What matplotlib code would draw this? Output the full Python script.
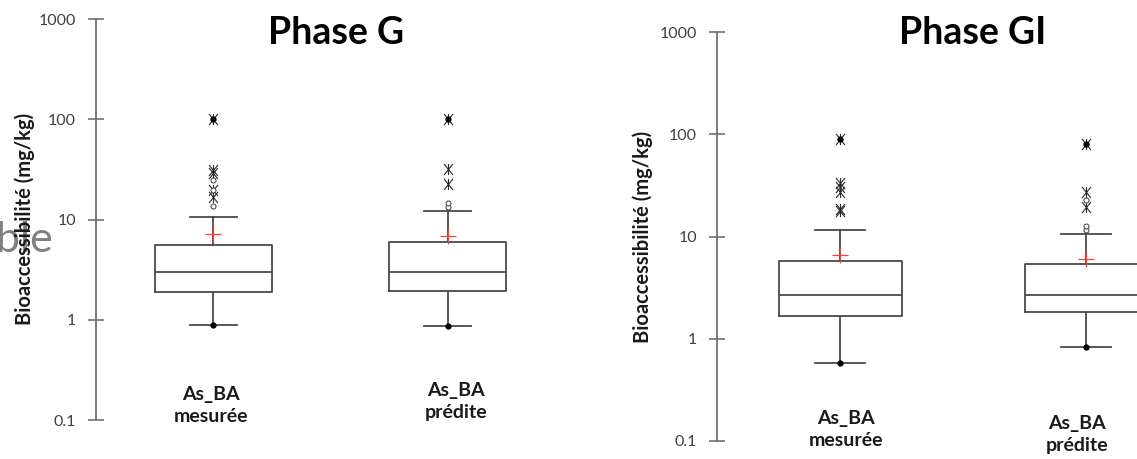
import numpy as np
import matplotlib
matplotlib.use("Agg")
import matplotlib.pyplot as plt
from matplotlib.path import Path

plt.rcParams['font.family'] = ['Lato', 'DejaVu Sans']

# ---- data ----
categories = ["As_BA\nmesurée", "As_BA\nprédite"]
titles = ["Phase G", "Phase GI"]
ylabel = "Bioaccessibilité (mg/kg)"
yticks = [0.1, 1, 10, 100, 1000]
ytick_labels = ["0.1", "1", "10", "100", "1000"]

# Phase G
g_q1 = [1.89, 1.95]
g_med = [2.99, 2.99]
g_q3 = [5.6, 6.04]
g_lo = [0.89, 0.858]
g_hi = [10.6, 12.2]
g_mean = [7.2, 6.92]
g_min = [0.89, 0.858]
g_max = [101, 101]
g_stars = [[16.9, 19.8, 29.0, 31.3, 101], [22.7, 32.0, 101]]
g_circles = [[13.7, 19.8, 24.9], [13.3, 14.7]]

# Phase GI
gi_q1 = [1.69, 1.84]
gi_med = [2.71, 2.71]
gi_q3 = [5.76, 5.42]
gi_lo = [0.578, 0.83]
gi_hi = [11.7, 10.6]
gi_mean = [6.68, 6.03]
gi_min = [0.578, 0.83]
gi_max = [90.6, 80.4]
gi_stars = [[17.8, 18.8, 27.6, 30.5, 33.8, 90.6], [19.4, 27.6, 80.4]]
gi_circles = [[], [11.7, 12.6, 22.9]]

W, H = 1137, 459
fig = plt.figure(figsize=(W / 100, H / 100), dpi=100)

box_col = '#4a4a4a'
axis_col = '#707070'

# asterisk like XLSTAT: an X with a vertical bar
star = Path([(-0.8, -1), (0.8, 1), (-0.8, 1), (0.8, -1), (0, -1), (0, 1)],
            [Path.MOVETO, Path.LINETO, Path.MOVETO, Path.LINETO, Path.MOVETO, Path.LINETO])


def px_axes(x0, y_top, y_bot, width):
    # axes placed from pixel coordinates of the reference
    return fig.add_axes([x0 / W, (H - y_bot) / H, width / W, (y_bot - y_top) / H])


def draw_panel(ax, q1, med, q3, lo, hi, mean, mn, mx, stars, circles):
    stats = []
    for i in range(len(q1)):
        stats.append(dict(q1=q1[i], med=med[i], q3=q3[i], whislo=lo[i],
                          whishi=hi[i], mean=mean[i], fliers=[]))
    pos = [1, 2]
    ax.bxp(stats, positions=pos, widths=0.5, showmeans=True, showfliers=False,
           boxprops=dict(color=box_col, linewidth=1.3),
           medianprops=dict(color=box_col, linewidth=1.3),
           whiskerprops=dict(color=box_col, linewidth=1.3),
           capprops=dict(color=box_col, linewidth=1.3),
           capwidths=0.2,
           meanprops=dict(marker='+', markersize=11, markeredgecolor='#ff3b3b',
                          markeredgewidth=0.9, linestyle='none'),
           manage_ticks=False)
    for i, p in enumerate(pos):
        ax.plot([p] * len(stars[i]), stars[i], linestyle='none', marker=star,
                markersize=8, markeredgecolor='#2a2a2a', markerfacecolor='none',
                markeredgewidth=0.8)
        if circles[i]:
            ax.plot([p] * len(circles[i]), circles[i], linestyle='none', marker='o',
                    markersize=3.6, markerfacecolor='white', markeredgecolor='#3a3a3a',
                    markeredgewidth=0.7)
        ax.plot([p, p], [mn[i], mx[i]], linestyle='none', marker='o', markersize=3.5,
                color='black')
    ax.set_yscale('log')
    ax.set_ylim(0.1, 1000)
    ax.set_xlim(0.5, 2.5)
    ax.set_yticks(yticks)
    ax.set_yticklabels(ytick_labels)
    ax.yaxis.set_minor_locator(matplotlib.ticker.NullLocator())
    ax.tick_params(axis='y', direction='inout', length=11, width=1.2, color=axis_col,
                   labelcolor='#404040', labelsize=11.5, pad=9)
    ax.set_xticks([])
    for s in ['top', 'right', 'bottom']:
        ax.spines[s].set_visible(False)
    ax.spines['left'].set_color(axis_col)
    ax.spines['left'].set_linewidth(1.3)
    ax.patch.set_alpha(0)


# faded text behind the left panel (overlapping slide text)
fig.text(-4 / W, (H - 252) / H, "ble", fontsize=31, color='#808080', va='baseline', ha='left')

ax1 = px_axes(96, 19.3, 420, 469)
draw_panel(ax1, g_q1, g_med, g_q3, g_lo, g_hi, g_mean, g_min, g_max, g_stars, g_circles)

ax2 = px_axes(717, 32.3, 441, 492)
draw_panel(ax2, gi_q1, gi_med, gi_q3, gi_lo, gi_hi, gi_mean, gi_min, gi_max, gi_stars, gi_circles)

# titles
fig.text(336 / W, (H - 33) / H, titles[0], fontsize=27, fontweight='bold', ha='center', va='center')
fig.text(973 / W, (H - 33) / H, titles[1], fontsize=27, fontweight='bold', ha='center', va='center')

# y labels
fig.text(25 / W, (H - 219) / H, ylabel, rotation=90, fontsize=14.5, fontweight='bold',
         ha='center', va='center', color='#1a1a1a')
fig.text(643 / W, (H - 237) / H, ylabel, rotation=90, fontsize=14.5, fontweight='bold',
         ha='center', va='center', color='#1a1a1a')

# category labels
label_xy = [(211, 405.5), (456, 401.5), (846, 429.5), (1077, 434.5)]
for k, (x, y) in enumerate(label_xy):
    fig.text(x / W, (H - y) / H, categories[k % 2], fontsize=14, fontweight='bold',
             ha='center', va='center', linespacing=1.3, color='#1a1a1a')

fig.savefig("out.png", dpi=100)
